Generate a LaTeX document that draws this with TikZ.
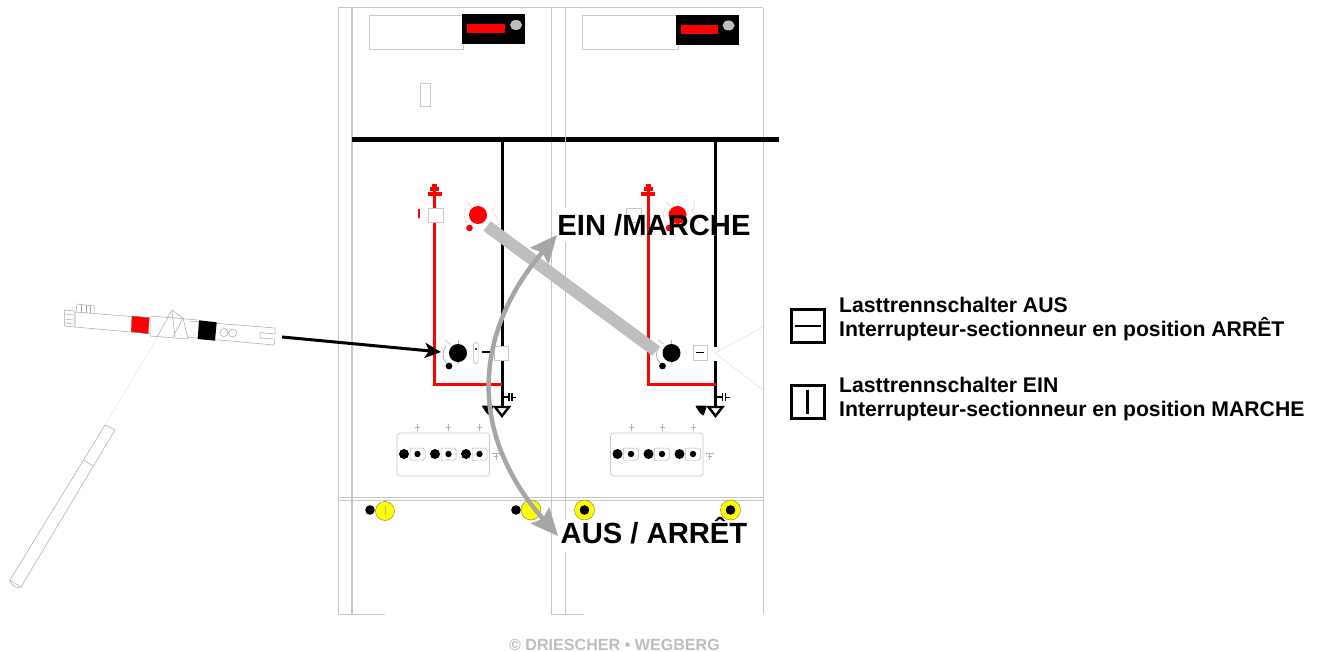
\documentclass[tikz,border=0pt]{standalone}
\usepackage{fontspec}
\setmainfont{Liberation Sans}
\usetikzlibrary{arrows.meta}
\definecolor{rahmen}{RGB}{200,200,200}
\definecolor{blass}{RGB}{255,190,190}
\definecolor{pfeil}{RGB}{166,166,166}
\definecolor{balken}{RGB}{190,190,190}
\definecolor{gelb}{RGB}{255,255,0}
\definecolor{logo}{RGB}{190,190,190}

\begin{document}
\begin{tikzpicture}[x=1pt,y=-1pt]
	\tikzstyle{rahmenlinie}=[color=rahmen,line width=1pt]
	\tikzstyle{griffel}=[color=gray!60,line width=0.5pt]
	\tikzstyle{schiene}=[line width=5pt]
	\tikzstyle{leiter}=[line width=3pt]
	\tikzstyle{rot}=[color=red,line width=3pt]
	\tikzstyle{gross}=[font=\fontsize{29.2}{32}\selectfont\bfseries,inner sep=0pt]
	\tikzstyle{legende}=[font=\fontsize{21.2}{24}\selectfont\bfseries,inner sep=0pt,
	  align=left,anchor=west]
	\tikzstyle{kasten}=[draw,line width=3pt,minimum size=33pt,inner sep=0pt]
	\tikzstyle{fleche}=[color=pfeil,line width=4.5pt,
	  {Stealth[length=27pt,width=24pt,inset=4pt]}-{Stealth[length=27pt,width=24pt,inset=4pt]}]
	\useasboundingbox (0,0) rectangle (1324,652);
	\fill[white] (0,0) rectangle (1324,652);
	% frame of the two panels
	\draw[rahmenlinie] (338,8) -- (763,8);
	\draw[rahmenlinie] (338,8) -- (338,614) -- (385,614);
	\draw[rahmenlinie,line width=1.4pt] (352,8) -- (352,614);
	\draw[rahmenlinie] (551,8) -- (551,614) -- (584,614);
	\draw[rahmenlinie] (565,8) -- (565,208) (565,242) -- (565,520) (565,552) -- (565,614);
	\draw[rahmenlinie] (763,8) -- (763,614);
	\draw[rahmenlinie] (338,497.5) -- (763,497.5);
	\draw[rahmenlinie] (338,500) -- (763,500);
	\draw[rahmenlinie,line width=0.7pt] (420,83) rectangle (430,106);
	\draw[rahmenlinie,line width=0.7pt] (369,15) rectangle (463,49);
	\draw[rahmenlinie,line width=0.7pt] (582,15) rectangle (678,49);
	% the two display boxes
	\fill (462,14) rectangle (525,44);
	\fill[red] (467,24) rectangle (505,33);
	\fill[balken] (516,25) ellipse (6 and 5);
	\fill (676,15) rectangle (739,45);
	\fill[red] (681,25) rectangle (718,34);
	\fill[balken] (728.5,25.5) ellipse (6 and 5);
	% red knobs with their marks
	\foreach \dx in {0,199.5} {
	  \begin{scope}[shift={(\dx,0)}]
	    \draw[blass] (466,207) .. controls (463,212) and (463,219) .. (467,223);
	    \draw[blass] (467,202) -- (472,207) (479,200) -- (479,205);
	    \draw[blass] (495,200) -- (495,207) -- (492,210) -- (500,223) -- (495,227);
	    \fill[red] (478,215) circle (9);
	    \fill[red] (469.5,228) circle (3.3);
	  \end{scope}
	}
	% what both panels have
	\foreach \dx in {0,213.5} {
	  \begin{scope}[shift={(\dx,0)}]
	    \draw[leiter] (502,139) -- (502,410);
	    \draw[rot] (434.5,190) -- (434.5,384) -- (502,384);
	    \fill[red] (427.5,192) rectangle (441.5,196);
	    \fill[red] (430,187.5) rectangle (439,191);
	    \fill[red] (432,184) rectangle (437,187);
	    % black knob with its marks
	    \draw[griffel,line width=0.9pt] (446,346) .. controls (442,351) and (442,358) .. (446,363);
	    \draw[griffel] (445,340) -- (450,344);
	    \draw[griffel] (458,340) -- (458,346) (458,361) -- (458,364);
	    \fill (458,353) circle (9);
	    \fill (449,366) circle (3.4);
	    % earthing and the small triangles
	    \draw[line width=1.7pt] (502,397) -- (509,397);
	    \draw[line width=1.3pt] (509,393) -- (509,401) (512,393) -- (512,401);
	    \draw[line width=1pt] (512,397) -- (516,397);
	    \fill[white] (495,407) -- (509,407) -- (502,416) -- cycle;
	    \draw[line width=2.4pt] (495,407) -- (509,407) -- (502,416) -- cycle;
	    \fill[rounded corners=1pt] (481.5,405.5) -- (493.5,405.5) -- (490,416) -- (486,412.5) -- cycle;
	    % lower box with the test sockets
	    \draw[rahmenlinie,line width=0.7pt,rounded corners=3pt] (397,433) rectangle (489.5,476);
	    \foreach \sx in {0,31,62} {
	      \draw[griffel] (\sx+410,448) -- (\sx+423,448) -- (\sx+425,450) -- (\sx+425,458)
	        -- (\sx+423,460) -- (\sx+410,460) -- cycle;
	      \fill (\sx+404,454) circle (5);
	      \fill (\sx+417.5,454) circle (3.2);
	      \draw[griffel] (\sx+415,427) -- (\sx+420,427) (\sx+417.5,424) -- (\sx+417.5,431);
	    }
	    \draw[griffel,line width=0.9pt] (492,453) -- (500,453) (496,453) -- (496,460) (494,456) -- (498,456);
	  \end{scope}
	}
	% left panel, small parts
	\fill[red] (418,209) rectangle (419.5,218);
	\node[draw=rahmen,fill=white,minimum size=14.5pt,inner sep=0pt] (erdungL) at (435.5,215) {};
	\draw[griffel] (473.5,344) -- (476,342) -- (478,344) -- (478,362) -- (476,364)
	  -- (473.5,362) -- cycle;
	\fill (476,349) circle (1.2);
	\draw[line width=1.4pt] (482,352) -- (491.5,352);
	\node[draw=rahmen,fill=white,minimum size=14pt,inner sep=0pt] (trennerL) at (501.5,353) {};
	% right panel, small parts
	\node[draw=rahmen,fill=white,minimum size=14.5pt,inner sep=0pt] (erdungR) at (633.5,215) {};
	\fill[white] (711,347) rectangle (720,360.5);
	\draw[color=rahmen!70,line width=0.4pt] (763,327) -- (715,353) -- (763,390);
	\node[draw=rahmen,fill=white,minimum size=14.5pt,inner sep=0pt] (trennerR) at (700,352.5) {};
	\draw[line width=1.4pt] (696,352.5) -- (704,352.5);
	% busbars
	\draw[schiene] (352,139.5) -- (565,139.5);
	\draw[schiene] (566,139.5) -- (779,139.5);
	% yellow lamps
	\node[circle,draw=black!60!yellow,fill=gelb,minimum size=19pt,inner sep=0pt] (lampeA) at (385,511) {};
	\node[circle,draw=black!60!yellow,fill=gelb,minimum size=20pt,inner sep=0pt] (lampeB) at (531,510) {};
	\node[circle,draw=black!60!yellow,fill=gelb,minimum size=20pt,inner sep=0pt] (lampeC) at (584.5,510) {};
	\node[circle,draw=black!60!yellow,fill=gelb,minimum size=20pt,inner sep=0pt] (lampeD) at (730.5,510) {};
	\fill (370,510) circle (4.8);
	\fill (516,510) circle (4.8);
	\fill (584.5,510) circle (4.8);
	\fill (730.5,510) circle (4.8);
	\draw[griffel] (385,506) -- (385,515);
	% the operating lever
	\tikzstyle{griffel}=[color=gray!70,line width=0.5pt]
	\draw[griffel] (75,312) -- (275,328) -- (275,334) -- (260,332.5) -- (260,338) -- (275,339)
	  -- (274,345) -- (75,327) -- cycle;
	\draw[griffel] (64.5,310) -- (74,311) -- (74,327) -- (64.5,326) -- cycle;
	\draw[griffel] (65,314) -- (73,315) (65,319) -- (73,320) (65,323) -- (73,324);
	\draw[griffel] (76,312) -- (77,304) -- (94,306) -- (94,313);
	\draw[griffel] (81,304.5) -- (81,312) (86,305) -- (86,313) (90,305.5) -- (90,313);
	\fill[white] (150,316) -- (172,310) -- (190,320) -- (188,339) -- (150,336) -- cycle;
	\draw[griffel] (150,316) -- (150,336) -- (188,339) -- (183,318);
	\draw[griffel] (172,310) -- (157,337) (172,310) -- (183,318) -- (173,337);
	\draw[griffel] (172,311) -- (175,337) (150,316) -- (198,320);
	\fill[red,draw=black!50] (132,316) -- (149.3,317.7) -- (148.3,333.7) -- (131,331.7) -- cycle;
	\fill (199,320.3) -- (216.7,322.3) -- (215,340.7) -- (197.7,339) -- cycle;
	\draw[griffel] (224,332.5) circle (4) (232.7,333) circle (4);
	\draw[color=gray!30,line width=0.3pt] (157,338) -- (105,425);
	\draw[griffel] (105,425) -- (115,430) (84,460) -- (93,466);
	\draw[griffel] (105,425) -- (10,580);
	\draw[griffel] (115,430) -- (21,587);
	\draw[griffel] (9.5,580) -- (21,587) .. controls (18,589) and (11,586) .. (9.5,580);
	% connectors
	\coordinate (griff) at (282,337);
	\coordinate (knopfL) at (441,352);
	\coordinate (rotkopf) at (487,226);
	\coordinate (schwarzkopf) at (656,351);
	\coordinate (ein) at (557,235);
	\coordinate (aus) at (558,536);
	\draw[line width=12pt,color=balken] (rotkopf) -- (schwarzkopf);
	\draw[-{Stealth[length=16pt,width=15pt,inset=4pt]},line width=3pt] (griff) -- (knopfL);
	\draw[fleche] (ein) .. controls (476,330) and (465,430) .. (aus);
	% labels
	\node[gross] (einlabel) at (654,225) {EIN /MARCHE};
	\node[gross] (auslabel) at (654,531) {AUS / ARRÊT};
	% legend
	\node[kasten] (symbolaus) at (807.5,326) {};
	\draw[line width=2.6pt] ([xshift=5pt]symbolaus.west) -- ([xshift=-5pt]symbolaus.east);
	\node[kasten] (symbolein) at (807.5,401.5) {};
	\draw[line width=2.6pt] ([yshift=-6pt]symbolein.north) -- ([yshift=6pt]symbolein.south);
	\node[legende] (textaus) at (839,319) {Lasttrennschalter AUS\\Interrupteur-sectionneur en position ARRÊT};
	\node[legende] (textein) at (839,399) {Lasttrennschalter EIN\\Interrupteur-sectionneur en position MARCHE};
	\node[font=\fontsize{16.1}{18}\selectfont\bfseries,color=logo,inner sep=0pt] (logo) at (614.5,645) {© DRIESCHER • WEGBERG};
\end{tikzpicture}
\end{document}
